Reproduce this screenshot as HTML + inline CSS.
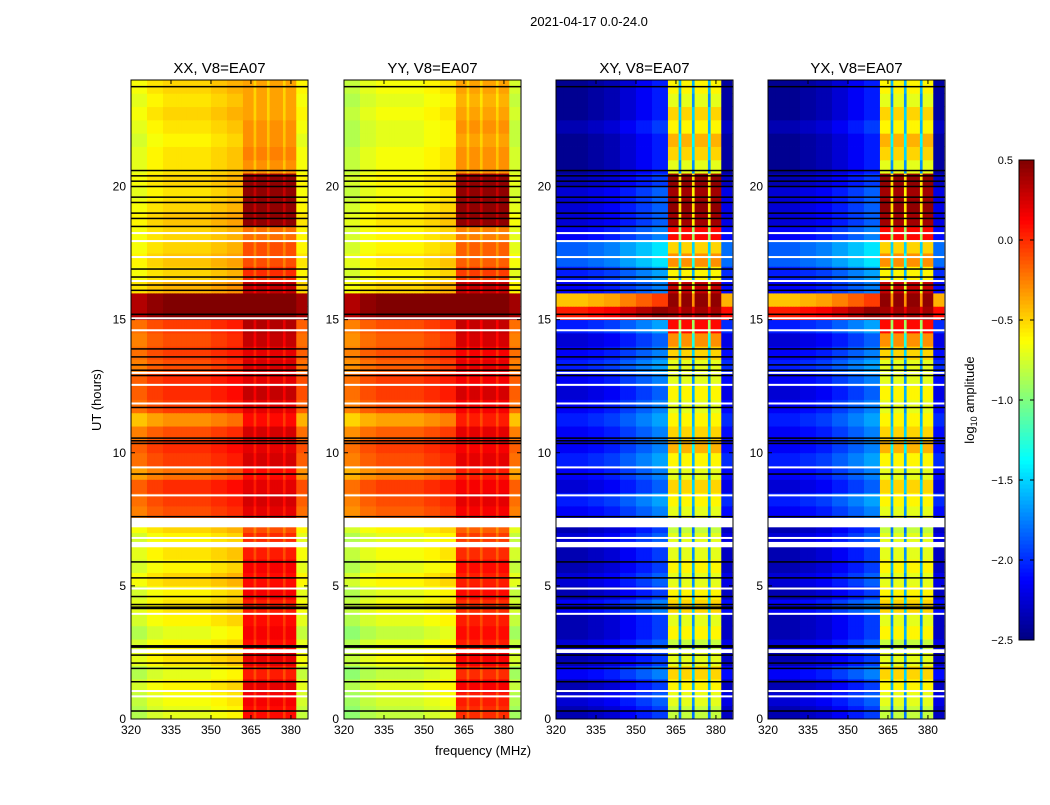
<!DOCTYPE html>
<html><head><meta charset="utf-8">
<style>
body{margin:0;background:#fff;}
svg text{font-family:"Liberation Sans",sans-serif;fill:#000;}
</style></head>
<body>
<svg id="fig" width="1050" height="800" viewBox="0 0 1050 800" xmlns="http://www.w3.org/2000/svg">
<text x="589" y="26" font-size="13" text-anchor="middle">2021-04-17 0.0-24.0</text>
<text x="483" y="755" font-size="13" text-anchor="middle">frequency (MHz)</text>
<text x="101" y="400" font-size="13" text-anchor="middle" transform="rotate(-90 101 400)">UT (hours)</text>
<g id="panels"></g>
<g id="cbar"></g>
<text x="974" y="400" font-size="13" text-anchor="middle" transform="rotate(-90 974 400)">log<tspan font-size="9" dy="3">10</tspan><tspan dy="-3"> amplitude</tspan></text>
</svg>
<script>
const panelTitles=["XX, V8=EA07","YY, V8=EA07","XY, V8=EA07","YX, V8=EA07"];
const xTicks=[320,335,350,365,380];
const yTicks=[0,5,10,15,20];
const cbTicks=[0.5,0.0,-0.5,-1.0,-1.5,-2.0,-2.5];
const colTypes="LLLLLLLLLLLLLLLLLLLLLLLLLLLLLLLLLLLLLLLLLLHHHHGHHHHGHHHHHGHHHHEEEE";
const xxLow=[-0.7,-0.65,-0.6,-0.7,-0.55,-0.6,-0.7,-0.6,-0.55,-0.6,-0.5,-0.6,-0.55,-0.6,-0.5,-0.1,-0.05,0,-0.2,-0.05,0,-0.1,-0.3,-0.05,0,0,-0.1,-0.05,-0.1,-0.05,0.5,0.5,-0.4,-0.5,-0.45,-0.5,-0.5,-0.45,-0.5,-0.55,-0.5,-0.55,-0.55,-0.6,-0.55,-0.5,-0.55,-0.5];
const xxHigh=[0.1,0.15,0.2,0.05,0.2,0.1,0.15,0.1,0.05,0.15,0.1,0.15,0.05,0.0,-0.1,0.2,0.25,0.2,0.1,0.25,0.2,0.25,0.1,0.2,0.3,0.2,0.25,0.2,0.3,0.35,0.5,0.5,0.3,0.0,-0.1,-0.1,-0.2,0.45,0.45,0.45,0.45,-0.3,-0.25,-0.3,-0.3,-0.35,-0.35,-0.35];
const yyLow=[-0.8,-0.75,-0.7,-0.8,-0.65,-0.7,-0.8,-0.7,-0.65,-0.7,-0.6,-0.7,-0.65,-0.7,-0.6,-0.15,-0.1,-0.05,-0.25,-0.1,-0.05,-0.15,-0.35,-0.1,-0.05,-0.05,-0.15,-0.1,-0.15,-0.1,0.5,0.5,-0.5,-0.6,-0.55,-0.6,-0.6,-0.55,-0.6,-0.65,-0.6,-0.65,-0.65,-0.7,-0.7,-0.65,-0.7,-0.65];
const yyHigh=[0.0,0.05,0.15,0.0,0.15,0.05,0.1,0.05,0.0,0.1,0.05,0.1,0.0,-0.05,-0.15,0.15,0.2,0.15,0.05,0.2,0.15,0.2,0.05,0.15,0.25,0.15,0.2,0.15,0.25,0.3,0.5,0.5,0.3,-0.05,-0.15,-0.15,-0.25,0.45,0.45,0.45,0.45,-0.3,-0.3,-0.35,-0.3,-0.35,-0.4,-0.35];
const xyLow=[-2.2,-2.1,-2.2,-2.0,-2.2,-2.1,-2.2,-2.2,-2.0,-2.2,-2.1,-2.2,-2.2,-2.1,-2.2,-2.0,-1.9,-2.1,-2.0,-1.9,-2.0,-2.0,-1.9,-2.0,-2.1,-2.0,-1.9,-2.0,-2.1,-1.9,0.2,-0.3,-2.0,-1.9,-1.7,-1.7,-2.0,-2.1,-2.1,-2.1,-2.2,-2.3,-2.3,-2.3,-2.2,-2.3,-2.3,-2.3];
const xyHigh=[-0.8,-0.7,-0.6,-0.5,-0.7,-0.8,-0.6,-0.7,-0.5,-0.6,-0.7,-0.6,-0.7,-0.7,-0.8,-0.7,-0.6,-0.5,-0.7,-0.6,-0.4,-0.5,-0.6,-0.7,-0.6,-0.7,-0.7,-0.5,-0.3,0.1,0.4,0.45,0.3,-0.6,-0.3,-0.5,0.1,0.4,0.45,0.4,0.45,-0.7,-0.5,-0.4,-0.6,-0.5,-0.7,-0.6];
const yxLow=[-2.2,-2.1,-2.2,-2.0,-2.2,-2.1,-2.2,-2.2,-2.0,-2.2,-2.1,-2.2,-2.2,-2.1,-2.2,-2.0,-1.9,-2.1,-2.0,-1.9,-2.0,-2.0,-1.9,-2.0,-2.1,-2.0,-1.9,-2.0,-2.1,-1.9,0.2,-0.3,-2.0,-1.9,-1.7,-1.7,-2.0,-2.1,-2.1,-2.1,-2.2,-2.3,-2.3,-2.3,-2.2,-2.3,-2.3,-2.3];
const yxHigh=[-0.8,-0.7,-0.6,-0.5,-0.7,-0.8,-0.6,-0.7,-0.5,-0.6,-0.7,-0.6,-0.7,-0.7,-0.8,-0.7,-0.6,-0.5,-0.7,-0.6,-0.4,-0.5,-0.6,-0.7,-0.6,-0.7,-0.7,-0.5,-0.3,0.1,0.4,0.45,0.3,-0.6,-0.3,-0.5,0.1,0.4,0.45,0.4,0.45,-0.7,-0.5,-0.4,-0.6,-0.5,-0.7,-0.6];
const xxLowTilt=[-0.15,-0.05,0,0,0,0.05,0.1];
const xyLowTilt=[-0.15,-0.15,-0.1,-0.05,0.05,0.15,0.25];
const blackLines=[23.75,20.6,20.4,20.2,20.0,19.6,19.4,19.0,18.8,18.5,16.9,16.6,16.3,16.1,15.2,13.9,13.6,13.3,13.1,12.9,11.7,10.55,10.45,10.35,9.2,7.6,5.9,5.3,4.6,4.3,4.2,4.15,2.75,2.7,2.4,2.1,1.9,1.4,0.3];
const whiteLines=[18.25,17.95,17.35,16.45,15.05,14.6,13.0,12.55,11.85,9.45,8.4,6.8,4.9,3.95,1.05,0.85];
const whiteBands=[[7.2,7.55],[6.45,6.65],[2.48,2.62]];

const panelX=[131,344,556,768], PW=177, PT=80, PB=719;
const FMIN=320, FMAX=386.4, TMAX=24;
const NS="http://www.w3.org/2000/svg";
function jet(v){let t=(v+2.5)/3; t=Math.max(0,Math.min(1,t));
 const f=x=>Math.max(0,Math.min(1,x));
 const r=f(1.5-Math.abs(4*t-3)),g=f(1.5-Math.abs(4*t-2)),b=f(1.5-Math.abs(4*t-1));
 return `rgb(${Math.round(r*255)},${Math.round(g*255)},${Math.round(b*255)})`;}
function mk(tag,attrs,parent){const e=document.createElementNS(NS,tag);for(const k in attrs)e.setAttribute(k,attrs[k]);parent.appendChild(e);return e;}
const series=[[xxLow,xxHigh,xxLowTilt],[yyLow,yyHigh,xxLowTilt],[xyLow,xyHigh,xyLowTilt],[yxLow,yxHigh,xyLowTilt]];
const panels=document.getElementById('panels');
panelX.forEach((x0,p)=>{
 const xs=f=>x0+(f-FMIN)/(FMAX-FMIN)*PW;
 const ys=t=>PB-t/TMAX*(PB-PT);
 const g=mk('g',{},panels);
 
 
 const [low,high,tilt]=series[p];
 const nRows=low.length;
 for(let r=0;r<nRows;r++){
  const t0=r*TMAX/nRows,t1=(r+1)*TMAX/nRows;
  for(let c=0;c<colTypes.length;c++){
   const ty=colTypes[c];let v;
   if(ty==='L')v=low[r]+tilt[Math.floor(c/6)];
   else if(ty==='H')v=high[r];
   else if(ty==='G')v=Math.max(low[r],high[r]-(p<2?0.15:1.0));
   else v=low[r]-0.1;
   const fx0=FMIN+c, fx1=Math.min(FMAX,FMIN+c+1);
   const cell=mk('rect',{x:xs(fx0),y:ys(t1),width:xs(fx1)-xs(fx0)+0.4,height:ys(t0)-ys(t1)+0.4,fill:jet(v)},g);
   
   
  }
 }
 whiteBands.forEach(b=>{const e=mk('rect',{x:x0,y:ys(b[1]),width:PW,height:ys(b[0])-ys(b[1]),fill:'#fff'},g);
  });
 whiteLines.forEach(t=>{const e=mk('rect',{x:x0,y:ys(t)-1,width:PW,height:2,fill:'#fff'},g);
  });
 blackLines.forEach(t=>{const e=mk('rect',{x:x0,y:ys(t)-0.75,width:PW,height:1.5,fill:'#000'},g);
  });
 const fr=mk('rect',{x:x0,y:PT,width:PW,height:PB-PT,fill:'none',stroke:'#000','stroke-width':1},g);
 
 xTicks.forEach(f=>{const X=xs(f);
  mk('line',{x1:X,x2:X,y1:PB,y2:PB-4,stroke:'#000'},g);mk('line',{x1:X,x2:X,y1:PT,y2:PT+4,stroke:'#000'},g);
  const tx=mk('text',{x:X,y:PB+15,'font-size':12,'text-anchor':'middle'},g);tx.textContent=f;
  });
 yTicks.forEach(t=>{const Y=ys(t);
  mk('line',{x1:x0,x2:x0+4,y1:Y,y2:Y,stroke:'#000'},g);mk('line',{x1:x0+PW,x2:x0+PW-4,y1:Y,y2:Y,stroke:'#000'},g);
  const tx=mk('text',{x:x0-5,y:Y+4,'font-size':12,'text-anchor':'end'},g);tx.textContent=t;
  });
 const tt=mk('text',{x:x0+PW/2,y:73,'font-size':15,'text-anchor':'middle'},g);tt.textContent=panelTitles[p];
 
});
const cb=document.getElementById('cbar');
const CX=1019,CW=15,CT=160,CB=640;
const cy=v=>CB-(v+2.5)/3*(CB-CT);
for(let i=0;i<120;i++){const v0=-2.5+i*3/120,v1=v0+3/120;
 const e=mk('rect',{x:CX,y:cy(v1),width:CW,height:cy(v0)-cy(v1)+0.5,fill:jet((v0+v1)/2)},cb);
 }
mk('rect',{x:CX,y:CT,width:CW,height:CB-CT,fill:'none',stroke:'#000'},cb);
cbTicks.forEach(v=>{const Y=cy(v);
 mk('line',{x1:CX,x2:CX+4,y1:Y,y2:Y,stroke:'#000'},cb);mk('line',{x1:CX+CW,x2:CX+CW-4,y1:Y,y2:Y,stroke:'#000'},cb);
 const tx=mk('text',{x:CX-6,y:Y+4,'font-size':11,'text-anchor':'end'},cb);tx.textContent=(v<0?'\u2212':'')+Math.abs(v).toFixed(1);
 });
</script>
</body></html>
